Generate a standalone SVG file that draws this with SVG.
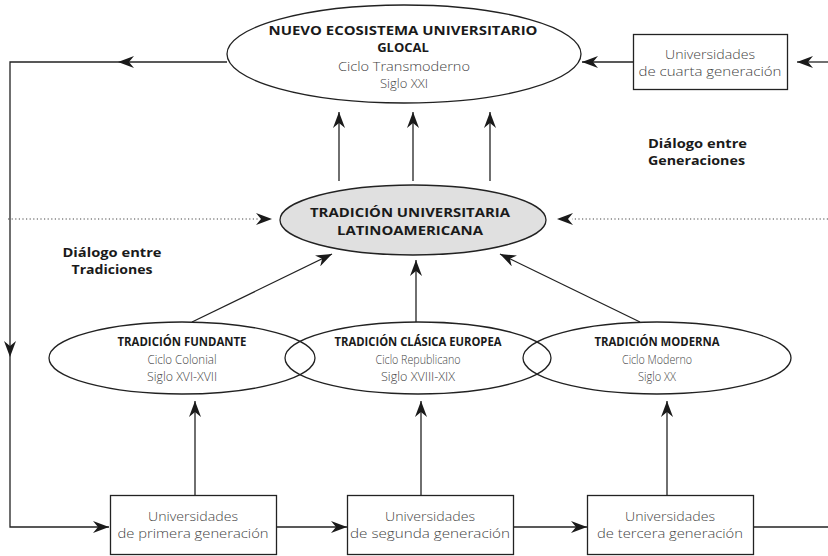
<svg xmlns="http://www.w3.org/2000/svg" width="828" height="556" viewBox="0 0 828 556">
<style>
.sh{fill:none;stroke:#222;stroke-width:1.3}
.box{fill:#fff;stroke:#222;stroke-width:1.3}
.ln{fill:none;stroke:#222;stroke-width:1.3}
.dot{fill:none;stroke:#444;stroke-width:1.1;stroke-dasharray:1.2 2.4}
.b{font-family:"Open Sans","Noto Sans","DejaVu Sans",sans-serif;font-weight:700;font-size:13px;fill:#1a1a1a;text-anchor:middle}
.l{font-family:"Open Sans","Noto Sans","DejaVu Sans",sans-serif;font-weight:300;font-size:13px;fill:#444;text-anchor:middle}
.bl{font-family:"Open Sans","Noto Sans","DejaVu Sans",sans-serif;font-weight:700;font-size:13px;fill:#1a1a1a}
</style>
<defs>
<marker id="ah" viewBox="0 0 16 12" refX="16" refY="6" markerWidth="16" markerHeight="12" markerUnits="userSpaceOnUse" orient="auto">
<path d="M0,0 L16,6 L0,12 L5,6 z" fill="#1a1a1a"/>
</marker>
</defs>
<g id="connectors">
<path class="ln" d="M227,62 H118" marker-end="url(#ah)"/>
<path class="ln" d="M118,62 H10 V357" marker-end="url(#ah)"/>
<path class="ln" d="M10,357 V527 H109" marker-end="url(#ah)"/>
<path class="ln" d="M633,62 H582" marker-end="url(#ah)"/>
<path class="ln" d="M828,62 H797" marker-end="url(#ah)"/>
<path class="ln" d="M339,181 V112" marker-end="url(#ah)"/>
<path class="ln" d="M413,181 V112" marker-end="url(#ah)"/>
<path class="ln" d="M490,181 V112" marker-end="url(#ah)"/>
<path class="dot" d="M8,219 H258"/>
<path class="ln" d="M262,219 H272" marker-end="url(#ah)" stroke-opacity="0"/>
<path class="dot" d="M828,219 H572"/>
<path class="ln" d="M568,219 H557" marker-end="url(#ah)" stroke-opacity="0"/>
<path class="ln" d="M192,322 L332,254" marker-end="url(#ah)"/>
<path class="ln" d="M416,322 V260" marker-end="url(#ah)"/>
<path class="ln" d="M640,322 L500,254" marker-end="url(#ah)"/>
<path class="ln" d="M195,495 V401" marker-end="url(#ah)"/>
<path class="ln" d="M421,495 V401" marker-end="url(#ah)"/>
<path class="ln" d="M667,495 V401" marker-end="url(#ah)"/>
<path class="ln" d="M276,527 H347" marker-end="url(#ah)"/>
<path class="ln" d="M513,527 H587" marker-end="url(#ah)"/>
<path class="ln" d="M753,527 H828"/>
</g>
<g id="nuevo-ecosistema">
<ellipse class="sh" cx="404" cy="54" rx="177" ry="49" fill="#fff"/>
<text class="b" x="403" y="35" textLength="269" lengthAdjust="spacingAndGlyphs">NUEVO ECOSISTEMA UNIVERSITARIO</text>
<text class="b" x="403" y="52">GLOCAL</text>
<text class="l" x="404" y="71" textLength="132" lengthAdjust="spacingAndGlyphs">Ciclo Transmoderno</text>
<text class="l" x="404" y="88">Siglo XXI</text>
</g>
<g id="cuarta-generacion">
<rect class="box" x="633.5" y="34.5" width="154" height="55"/>
<text class="l" x="710" y="59" textLength="90" lengthAdjust="spacingAndGlyphs">Universidades</text>
<text class="l" x="710" y="76" textLength="143" lengthAdjust="spacingAndGlyphs">de cuarta generación</text>
</g>
<g id="tradicion-latinoamericana">
<ellipse cx="413" cy="220" rx="133" ry="35" fill="#e0e0e0" stroke="#222" stroke-width="1.3"/>
<text class="b" x="410" y="217" textLength="200" lengthAdjust="spacingAndGlyphs">TRADICIÓN UNIVERSITARIA</text>
<text class="b" x="410" y="235" textLength="146" lengthAdjust="spacingAndGlyphs">LATINOAMERICANA</text>
</g>
<g id="dialogo-generaciones">
<text class="bl" x="648" y="148" textLength="99" lengthAdjust="spacingAndGlyphs">Diálogo entre</text>
<text class="bl" x="648" y="165" textLength="97" lengthAdjust="spacingAndGlyphs">Generaciones</text>
</g>
<g id="dialogo-tradiciones">
<text class="b" x="112" y="257" textLength="99" lengthAdjust="spacingAndGlyphs">Diálogo entre</text>
<text class="b" x="112" y="274" textLength="81" lengthAdjust="spacingAndGlyphs">Tradiciones</text>
</g>
<g id="tradicion-fundante">
<ellipse class="sh" cx="182" cy="358" rx="133" ry="36"/>
<text class="b" x="182" y="346" textLength="129" lengthAdjust="spacingAndGlyphs">TRADICIÓN FUNDANTE</text>
<text class="l" x="182" y="364" textLength="69" lengthAdjust="spacingAndGlyphs">Ciclo Colonial</text>
<text class="l" x="182" y="381" textLength="70" lengthAdjust="spacingAndGlyphs">Siglo XVI-XVII</text>
</g>
<g id="tradicion-clasica">
<ellipse class="sh" cx="418" cy="358" rx="133" ry="36"/>
<text class="b" x="418" y="346" textLength="167" lengthAdjust="spacingAndGlyphs">TRADICIÓN CLÁSICA EUROPEA</text>
<text class="l" x="418" y="364" textLength="85" lengthAdjust="spacingAndGlyphs">Ciclo Republicano</text>
<text class="l" x="418" y="381" textLength="74" lengthAdjust="spacingAndGlyphs">Siglo XVIII-XIX</text>
</g>
<g id="tradicion-moderna">
<ellipse class="sh" cx="657" cy="358" rx="134" ry="36"/>
<text class="b" x="657" y="346" textLength="125" lengthAdjust="spacingAndGlyphs">TRADICIÓN MODERNA</text>
<text class="l" x="657" y="364" textLength="70" lengthAdjust="spacingAndGlyphs">Ciclo Moderno</text>
<text class="l" x="657" y="381" textLength="38" lengthAdjust="spacingAndGlyphs">Siglo XX</text>
</g>
<g id="primera-generacion">
<rect class="box" x="110.5" y="495.5" width="166" height="59"/>
<text class="l" x="193" y="521" textLength="90" lengthAdjust="spacingAndGlyphs">Universidades</text>
<text class="l" x="193" y="538" textLength="151" lengthAdjust="spacingAndGlyphs">de primera generación</text>
</g>
<g id="segunda-generacion">
<rect class="box" x="347.5" y="495.5" width="166" height="59"/>
<text class="l" x="430" y="521" textLength="90" lengthAdjust="spacingAndGlyphs">Universidades</text>
<text class="l" x="430" y="538" textLength="160" lengthAdjust="spacingAndGlyphs">de segunda generación</text>
</g>
<g id="tercera-generacion">
<rect class="box" x="587.5" y="495.5" width="166" height="59"/>
<text class="l" x="670" y="521" textLength="90" lengthAdjust="spacingAndGlyphs">Universidades</text>
<text class="l" x="670" y="538" textLength="146" lengthAdjust="spacingAndGlyphs">de tercera generación</text>
</g>
</svg>
